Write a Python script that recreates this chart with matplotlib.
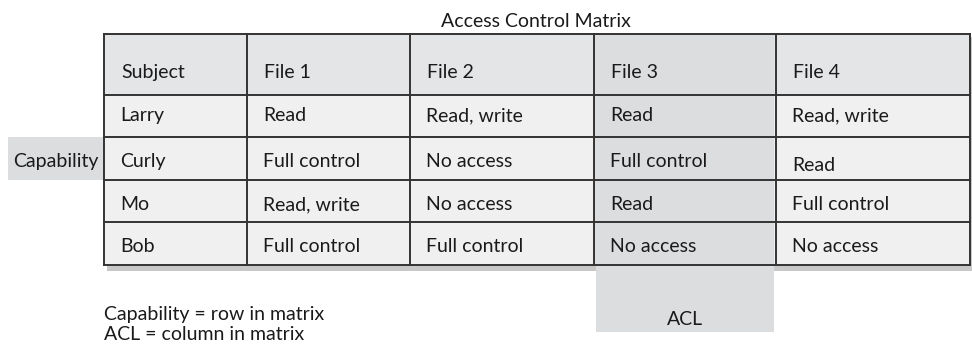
import matplotlib
matplotlib.use("Agg")
import matplotlib.pyplot as plt
from matplotlib.patches import Rectangle

plt.rcParams['font.family'] = ['Lato', 'DejaVu Sans']

title = "Access Control Matrix"
headers = ["Subject", "File 1", "File 2", "File 3", "File 4"]
subjects = ["Larry", "Curly", "Mo", "Bob"]
file1 = ["Read", "Full control", "Read, write", "Full control"]
file2 = ["Read, write", "No access", "No access", "Full control"]
file3 = ["Read", "Full control", "Read", "No access"]
file4 = ["Read, write", "Read", "Full control", "No access"]
capability_label = "Capability"
acl_label = "ACL"
notes = ["Capability = row in matrix", "ACL = column in matrix"]

W, H = 972, 344
fig = plt.figure(figsize=(W / 100, H / 100), dpi=100)
ax = fig.add_axes([0, 0, 1, 1])
ax.set_xlim(0, W)
ax.set_ylim(H, 0)
ax.axis('off')

col_x = [104, 247, 410, 594, 776, 970]
row_y = [34, 95, 137, 180, 222, 265]
row_base = [121, 167, 210, 252]
columns = [subjects, file1, file2, file3, file4]

header_bg = "#e4e5e7"
body_bg = "#f0f0f0"
acl_bg = "#dcdddf"
line_c = "#333333"

# shadow
ax.add_patch(Rectangle((col_x[0] + 3, row_y[0] + 3), col_x[-1] - col_x[0] + 1,
                       row_y[-1] - row_y[0] + 3, facecolor="#c8c8c8", edgecolor='none', zorder=0))
# backgrounds
ax.add_patch(Rectangle((col_x[0], row_y[0]), col_x[-1] - col_x[0], row_y[1] - row_y[0],
                       facecolor=header_bg, edgecolor='none', zorder=1))
ax.add_patch(Rectangle((col_x[0], row_y[1]), col_x[-1] - col_x[0], row_y[-1] - row_y[1],
                       facecolor=body_bg, edgecolor='none', zorder=1))
# ACL column shading (File 3)
ax.add_patch(Rectangle((col_x[3], row_y[0]), col_x[4] - col_x[3] - 2, row_y[-1] - row_y[0],
                       facecolor=acl_bg, edgecolor='none', zorder=2))
# ACL label box below
ax.add_patch(Rectangle((col_x[3] + 2, row_y[-1]), col_x[4] - col_x[3] - 4, 67,
                       facecolor=acl_bg, edgecolor='none', zorder=2))
# Capability box
ax.add_patch(Rectangle((8, row_y[2]), col_x[0] - 8, row_y[3] - row_y[2],
                       facecolor=acl_bg, edgecolor='none', zorder=2))

# grid lines
for x in col_x:
    ax.plot([x, x], [row_y[0], row_y[-1]], color=line_c, lw=1.4, zorder=3, solid_capstyle='projecting')
for y in row_y:
    ax.plot([col_x[0], col_x[-1]], [y, y], color=line_c, lw=1.4, zorder=3, solid_capstyle='projecting')

fs = 14
tc = "#1a1a1a"
for ci, hdr in enumerate(headers):
    ax.text(col_x[ci] + 17, 78, hdr, fontsize=fs, color=tc,
            va='baseline', ha='left', zorder=4)
for ci, col in enumerate(columns):
    for ri, val in enumerate(col):
        yb = row_base[ri]
        if ci == 4 and ri == 1:
            yb += 4
        ax.text(col_x[ci] + 16, yb, val, fontsize=fs, color=tc, va='baseline', ha='left', zorder=4)

ax.text(536, 27, title, fontsize=fs, color=tc, ha='center', va='baseline')
ax.text(13, row_base[1], capability_label, fontsize=fs, color=tc,
        ha='left', va='baseline', zorder=4)
ax.text((col_x[3] + col_x[4]) / 2, 325, acl_label, fontsize=fs, color=tc,
        ha='center', va='baseline', zorder=4)
ax.text(104, 320, notes[0], fontsize=fs, color=tc, ha='left', va='baseline')
ax.text(104, 340, notes[1], fontsize=fs, color=tc, ha='left', va='baseline')

fig.savefig("out.png", dpi=100)
